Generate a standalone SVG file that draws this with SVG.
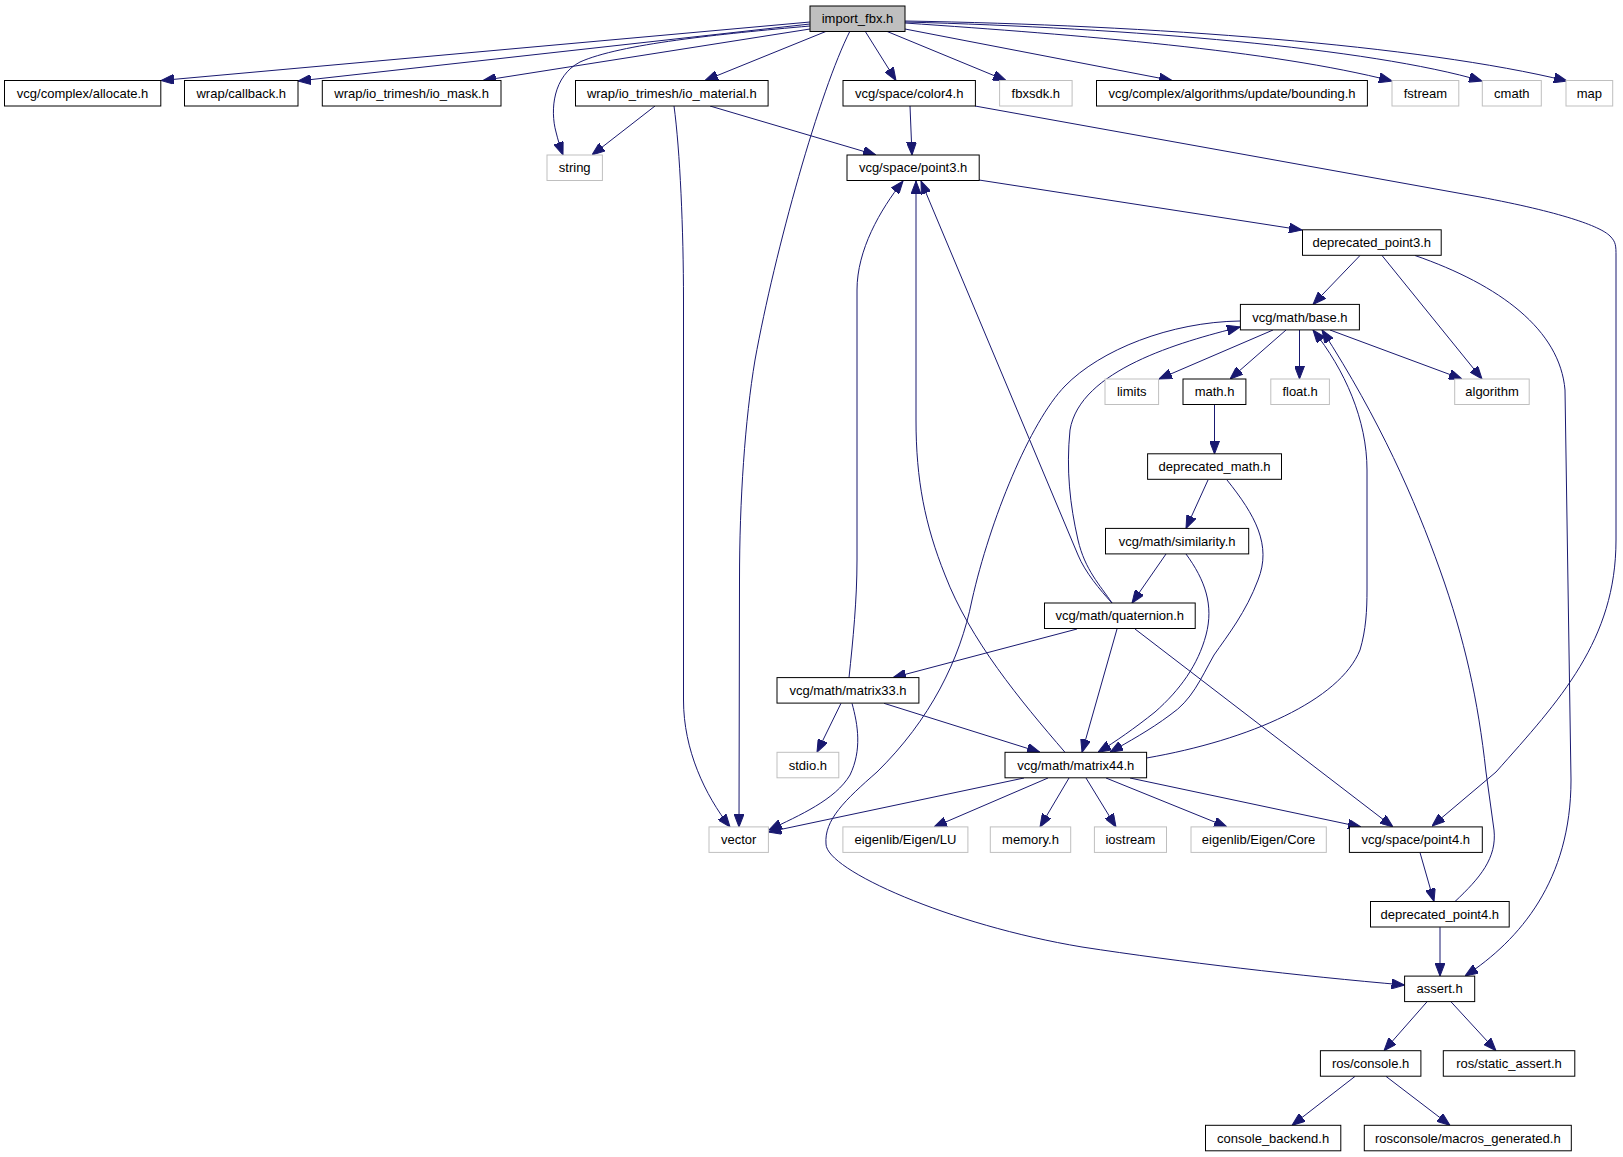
<svg xmlns="http://www.w3.org/2000/svg" width="1623" height="1157" viewBox="0 0 1623 1157">
<style>
.nd rect{fill:#ffffff;stroke:#000000;stroke-width:1}
.gr rect{fill:#ffffff;stroke:#bfbfbf;stroke-width:1}
.rt rect{fill:#bfbfbf;stroke:#000000;stroke-width:1}
text{font-family:"Liberation Sans",Arial,Helvetica,sans-serif;font-size:13px;text-anchor:middle;fill:#000000}
#edges path{fill:none;stroke:#191970;stroke-width:1;marker-end:url(#arr)}
</style>
<defs>
<marker id="arr" viewBox="0 0 13 10" refX="13" refY="5" markerWidth="13" markerHeight="10" orient="auto" markerUnits="userSpaceOnUse">
<path d="M0,0 L13,5 L0,10 Z" fill="#191970" stroke="#191970" stroke-width="1"/>
</marker>
</defs>
<rect x="0" y="0" width="1623" height="1157" fill="#ffffff"/>
<g id="edges">
<path d="M810,22 L161,80.5"/>
<path d="M810,24 L298,81"/>
<path d="M810,29 L483,80.5"/>
<path d="M810,26 C720,34 620,44 580,62 C553,76 550,110 556,132 C558,140 560,147 563,155"/>
<path d="M827,31 L705,80.5"/>
<path d="M850,31 C820,90 775,250 755,360 C745,420 739.5,500 739.5,580 L739,827"/>
<path d="M865,31 L896,80.5"/>
<path d="M886,31 L1006,80.5"/>
<path d="M905,29 L1172,80.5"/>
<path d="M905,23 C1080,35 1270,50 1392,81"/>
<path d="M905,22 C1130,28 1370,48 1482,81"/>
<path d="M905,21 C1150,25 1420,45 1567,81"/>
<path d="M655,106 L592,155"/>
<path d="M674,106 C680,150 683.5,230 683.5,300 L683.5,700 C683.5,750 705,795 730,827"/>
<path d="M710,106 L876,155"/>
<path d="M910,106 L912,155"/>
<path d="M975,106 L1480,197 C1560,212 1600,226 1610,236 C1616,242 1616,246 1616,256 L1616,540 C1616,640 1560,700 1496,772 L1432,826"/>
<path d="M979,180 L1302,230"/>
<path d="M1360,255.5 L1313,304.4"/>
<path d="M1382,255.5 L1482,379"/>
<path d="M1415,255.5 C1500,285 1560,330 1565,390 L1571,780 C1571,880 1520,940 1465,976"/>
<path d="M1273,330 L1159,379"/>
<path d="M1286,330 L1230,379"/>
<path d="M1299.5,330 L1299.5,379"/>
<path d="M1330,330 L1462,379"/>
<path d="M1240,321 C1170,322 1100,350 1065,386 C1030,422 990,520 972,600 C960,660 930,720 877,772 C845,800 824,820 826,844 C826,870 950,925 1082,947 C1180,962 1300,976 1404.6,985"/>
<path d="M1214.5,405 L1214.5,454"/>
<path d="M1208,480 L1186,528.4"/>
<path d="M1227,480 C1255,515 1272,545 1258,580 C1246,612 1228,635 1214,655 C1200,680 1192,700 1170,715 C1150,730 1128,742 1110,752.3"/>
<path d="M1166,554 L1132,603"/>
<path d="M1186,554 C1205,580 1214,605 1206,635 C1198,665 1180,690 1155,712 C1135,728 1115,742 1098,752.3"/>
<path d="M1112,603 C1100,590 1085,572 1078,555 L921,181"/>
<path d="M1112,603 C1100,585 1085,570 1078,540 C1070,505 1066,470 1070,430 C1080,370 1180,342 1240,327"/>
<path d="M1077,629 L893,677.6"/>
<path d="M1117,629 L1082,752.3"/>
<path d="M1135,629 L1393,827"/>
<path d="M849,677.6 C853,640 857,600 857,560 L857,290 C857,250 880,210 903,181"/>
<path d="M841,703.3 L817,752.3"/>
<path d="M852,703.3 C858,725 862,750 850,775 C835,800 800,815 769,830"/>
<path d="M884,703.3 L1040,752.3"/>
<path d="M1065,752.3 C1020,700 970,640 945,575 C925,525 916,480 916,420 L916,181"/>
<path d="M1146.6,758 C1250,740 1340,700 1360,650 C1366,630 1367,610 1367,590 L1367,470 C1367,420 1345,370 1313,330"/>
<path d="M1024,778 L768.5,832"/>
<path d="M1048,778 L934,827"/>
<path d="M1069,778 L1040,827"/>
<path d="M1086,778 L1116,827"/>
<path d="M1106,778 L1227,827"/>
<path d="M1130,778 L1361,827"/>
<path d="M1420,852.6 L1434,901.5"/>
<path d="M1455,901.5 C1480,878 1497,858 1494,830 L1486,772 C1478,700 1465,640 1440,570 C1415,500 1380,420 1322,330"/>
<path d="M1440,927.2 L1440,976.1"/>
<path d="M1427,1001.8 L1384,1050.7"/>
<path d="M1451,1001.8 L1496,1050.7"/>
<path d="M1355,1076.4 L1292,1125.3"/>
<path d="M1386,1076.4 L1450,1125.3"/>
</g>
<g id="n0" class="rt"><rect x="810" y="6" width="95" height="25.5"/><text x="857.5" y="23.3">import_fbx.h</text></g>
<g id="n1" class="nd"><rect x="4.5" y="80.5" width="156.3" height="25.5"/><text x="82.6" y="97.8">vcg/complex/allocate.h</text></g>
<g id="n2" class="nd"><rect x="184.5" y="80.5" width="113.5" height="25.5"/><text x="241.3" y="97.8">wrap/callback.h</text></g>
<g id="n3" class="nd"><rect x="322.3" y="80.5" width="178.7" height="25.5"/><text x="411.6" y="97.8">wrap/io_trimesh/io_mask.h</text></g>
<g id="n4" class="nd"><rect x="575.5" y="80.5" width="192.6" height="25.5"/><text x="671.8" y="97.8">wrap/io_trimesh/io_material.h</text></g>
<g id="n5" class="nd"><rect x="843" y="80.5" width="132.4" height="25.5"/><text x="909.2" y="97.8">vcg/space/color4.h</text></g>
<g id="n6" class="gr"><rect x="999.6" y="80.5" width="72.5" height="25.5"/><text x="1035.8" y="97.8">fbxsdk.h</text></g>
<g id="n7" class="nd"><rect x="1096.5" y="80.5" width="270.9" height="25.5"/><text x="1232" y="97.8">vcg/complex/algorithms/update/bounding.h</text></g>
<g id="n8" class="gr"><rect x="1392" y="80.5" width="66.8" height="25.5"/><text x="1425.4" y="97.8">fstream</text></g>
<g id="n9" class="gr"><rect x="1482.3" y="80.5" width="59" height="25.5"/><text x="1511.8" y="97.8">cmath</text></g>
<g id="n10" class="gr"><rect x="1566" y="80.5" width="46.7" height="25.5"/><text x="1589.3" y="97.8">map</text></g>
<g id="n11" class="gr"><rect x="547" y="155" width="55.4" height="25.5"/><text x="574.7" y="172.3">string</text></g>
<g id="n12" class="nd"><rect x="847" y="155" width="132.2" height="25.5"/><text x="913.1" y="172.3">vcg/space/point3.h</text></g>
<g id="n13" class="nd"><rect x="1302.5" y="229.8" width="138.7" height="25.5"/><text x="1371.8" y="247.1">deprecated_point3.h</text></g>
<g id="n14" class="nd"><rect x="1240.4" y="304.4" width="119" height="25.5"/><text x="1299.9" y="321.7">vcg/math/base.h</text></g>
<g id="n15" class="gr"><rect x="1105" y="379" width="53.6" height="25.5"/><text x="1131.8" y="396.3">limits</text></g>
<g id="n16" class="nd"><rect x="1183" y="379" width="62.9" height="25.5"/><text x="1214.5" y="396.3">math.h</text></g>
<g id="n17" class="gr"><rect x="1270.8" y="379" width="58.6" height="25.5"/><text x="1300.1" y="396.3">float.h</text></g>
<g id="n18" class="gr"><rect x="1454.7" y="379" width="74.5" height="25.5"/><text x="1492" y="396.3">algorithm</text></g>
<g id="n19" class="nd"><rect x="1147.6" y="453.8" width="133.9" height="25.5"/><text x="1214.5" y="471.1">deprecated_math.h</text></g>
<g id="n20" class="nd"><rect x="1105.5" y="528.4" width="143.2" height="25.5"/><text x="1177.1" y="545.7">vcg/math/similarity.h</text></g>
<g id="n21" class="nd"><rect x="1044.5" y="603" width="150.7" height="25.5"/><text x="1119.8" y="620.3">vcg/math/quaternion.h</text></g>
<g id="n22" class="nd"><rect x="777" y="677.6" width="141.9" height="25.5"/><text x="848" y="694.9">vcg/math/matrix33.h</text></g>
<g id="n23" class="gr"><rect x="777" y="752.3" width="61.8" height="25.5"/><text x="807.9" y="769.6">stdio.h</text></g>
<g id="n24" class="nd"><rect x="1005" y="752.3" width="141.6" height="25.5"/><text x="1075.8" y="769.6">vcg/math/matrix44.h</text></g>
<g id="n25" class="gr"><rect x="709" y="826.9" width="59.4" height="25.5"/><text x="738.7" y="844.2">vector</text></g>
<g id="n26" class="gr"><rect x="842.9" y="826.9" width="125" height="25.5"/><text x="905.4" y="844.2">eigenlib/Eigen/LU</text></g>
<g id="n27" class="gr"><rect x="990.3" y="826.9" width="80.4" height="25.5"/><text x="1030.5" y="844.2">memory.h</text></g>
<g id="n28" class="gr"><rect x="1094.4" y="826.9" width="72.1" height="25.5"/><text x="1130.4" y="844.2">iostream</text></g>
<g id="n29" class="gr"><rect x="1191" y="826.9" width="135.3" height="25.5"/><text x="1258.6" y="844.2">eigenlib/Eigen/Core</text></g>
<g id="n30" class="nd"><rect x="1349.4" y="826.9" width="132.9" height="25.5"/><text x="1415.8" y="844.2">vcg/space/point4.h</text></g>
<g id="n31" class="nd"><rect x="1370.5" y="901.5" width="138.7" height="25.5"/><text x="1439.8" y="918.8">deprecated_point4.h</text></g>
<g id="n32" class="nd"><rect x="1404.6" y="976.1" width="70.1" height="25.5"/><text x="1439.6" y="993.4">assert.h</text></g>
<g id="n33" class="nd"><rect x="1320.4" y="1050.7" width="100.5" height="25.5"/><text x="1370.6" y="1068">ros/console.h</text></g>
<g id="n34" class="nd"><rect x="1443.3" y="1050.7" width="131.5" height="25.5"/><text x="1509" y="1068">ros/static_assert.h</text></g>
<g id="n35" class="nd"><rect x="1205.5" y="1125.3" width="135.3" height="25.5"/><text x="1273.1" y="1142.6">console_backend.h</text></g>
<g id="n36" class="nd"><rect x="1364.3" y="1125.3" width="207" height="25.5"/><text x="1467.8" y="1142.6">rosconsole/macros_generated.h</text></g>
</svg>
